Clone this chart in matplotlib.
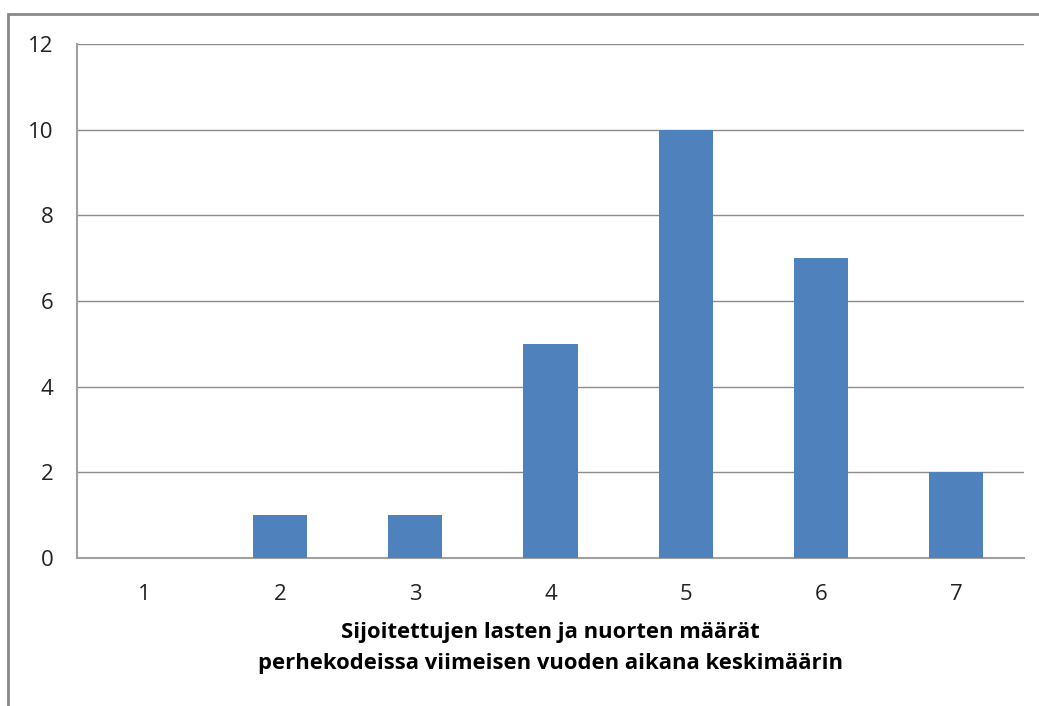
import numpy as np
import matplotlib
matplotlib.use("Agg")
import matplotlib.pyplot as plt
from matplotlib.patches import Rectangle

# Dane
kategoriat = ["1", "2", "3", "4", "5", "6", "7"]
wartosci = [0, 1, 1, 5, 10, 7, 2]
y_ticks = [0, 2, 4, 6, 8, 10, 12]
xlabel = "Sijoitettujen lasten ja nuorten määrät\nperhekodeissa viimeisen vuoden aikana keskimäärin"

plt.rcParams['font.family'] = ['Open Sans', 'DejaVu Sans']

fig = plt.figure(figsize=(10.39, 7.06), dpi=100)
ax = fig.add_axes([77 / 1039, 1 - 558 / 706, 947 / 1039, 514 / 706])

x = np.arange(len(kategoriat))
ax.bar(x, wartosci, width=0.4, color='#4F81BD', zorder=3)

ax.set_xlim(-0.5, len(kategoriat) - 0.5)
ax.set_ylim(0, 12)
ax.set_yticks(y_ticks)
ax.set_xticks(x)
ax.set_xticklabels(kategoriat)
ax.tick_params(axis='both', length=0, labelsize=16, colors='#222222')
ax.tick_params(axis='y', pad=17)
ax.tick_params(axis='x', pad=19)

ax.grid(axis='y', color='#8c8c8c', linewidth=1, zorder=0)
for side in ['top', 'right']:
    ax.spines[side].set_visible(False)
for side in ['left', 'bottom']:
    ax.spines[side].set_color('#a0a0a0')
    ax.spines[side].set_linewidth(1.5)

ax.set_xlabel(xlabel, fontsize=15.8, fontweight='bold', labelpad=12, linespacing=1.6)

# Ramka wykresu
fig.patches.append(Rectangle((8 / 1039, -0.1), 1.2, 0.1 + 1 - 14 / 706,
                             transform=fig.transFigure, fill=False,
                             edgecolor='#888888', linewidth=2))

fig.savefig("out.png", dpi=100)
